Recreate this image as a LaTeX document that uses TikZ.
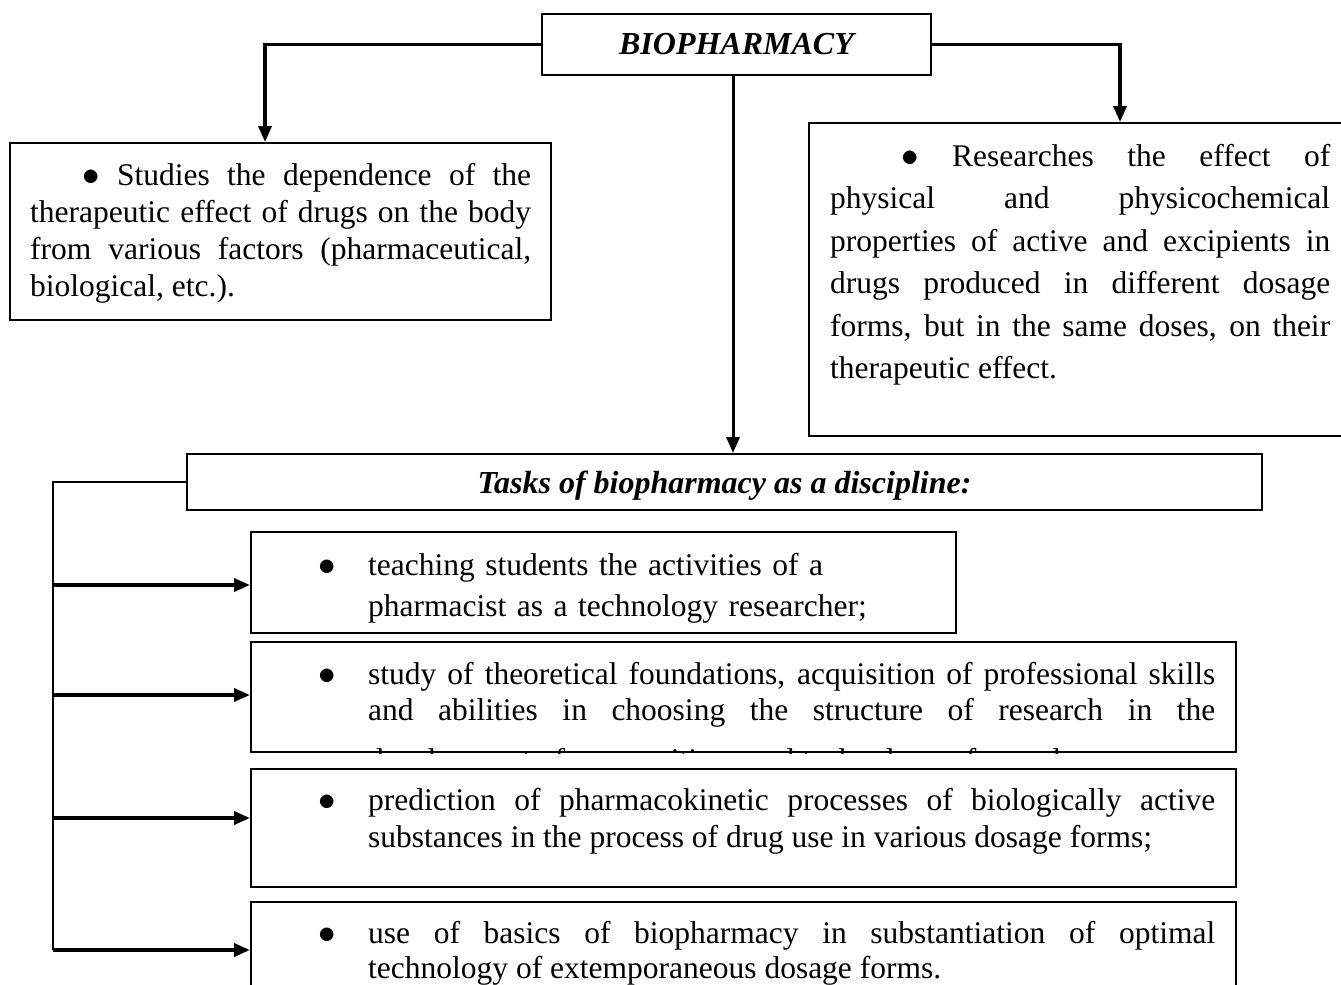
\documentclass[tikz,border=0pt]{standalone}
\usepackage{graphicx}
\usepackage{fontspec}
\setmainfont{Liberation Serif}
\usetikzlibrary{arrows.meta}

\tikzset{
  panel/.style={draw, line width=2pt, rectangle, inner sep=0pt},
  head/.style={font=\fontsize{32}{37}\selectfont\bfseries\itshape},
  body/.style={inner sep=0pt, anchor=base west, align=justify,
               font=\fontsize{31.5}{#1}\selectfont},
  feed/.style={line width=3.5pt, -{Triangle[length=16pt,width=13pt]}},
  rail/.style={line width=2pt},
  branch/.style={line width=3.5pt, -{Triangle[length=16pt,width=13pt]}}
}
\newcommand{\dotmark}{\scalebox{1.4}{$\bullet$}}
\newcommand{\bul}{\llap{\dotmark\hspace{32pt}}}

\begin{document}
\begin{tikzpicture}[x=1pt, y=-1pt]
  \useasboundingbox (0,0) rectangle (1341,985);
  \clip (0,0) rectangle (1341,985);

  % top
  \node[panel, head, minimum width=389, minimum height=61] (bio) at (736.5,44.5) {BIOPHARMACY};

  % left and right
  \node[panel, minimum width=541, minimum height=177] (studies) at (280.5,231.5) {};
  \node[body=37, text width=501] (studiestxt) at (30,185)
    {\hspace*{52pt}\dotmark\ Studies the dependence of the\linebreak
     therapeutic effect of drugs on the body\linebreak
     from various factors (pharmaceutical,\linebreak
     biological, etc.).};
  \node[panel, minimum width=541, minimum height=313] (researches) at (1079.5,279.5) {};
  \node[body=42.5, text width=500] (researchestxt) at (830,166)
    {\hspace*{71pt}\dotmark\ Researches the effect of\linebreak
     physical and physicochemical\linebreak
     properties of active and excipients in\linebreak
     drugs produced in different dosage\linebreak
     forms, but in the same doses, on their\linebreak
     therapeutic effect.};

  \draw[feed] (bio.west) -| ([xshift=-15.5pt]studies.north);
  \draw[feed] (bio.east) -| ([xshift=40.5pt]researches.north);

  % tasks
  \node[panel, head, minimum width=1075, minimum height=56, text height=22pt, text depth=0pt] (tasks) at (724.5,482) {Tasks of biopharmacy as a discipline:};
  \draw[feed, line width=3pt] ([xshift=-3.5pt]bio.south) -- ([xshift=-3.5pt]bio.south |- tasks.north);

  \node[panel, minimum width=705, minimum height=101] (t1) at (603.5,582.5) {};
  \node[body=41.5, text width=560, align=left] (t1txt) at (368,575)
    {\bul teaching students the activities of a\\
     pharmacist as a technology researcher;};

  \node[panel, minimum width=985, minimum height=110] (t2) at (743.5,697) {};
  \begin{scope}
    \clip (t2.north west) rectangle (t2.south east);
    \node[body=36.5, text width=847] (t2txt) at (368,684)
      {\bul study of theoretical foundations, acquisition of professional skills\linebreak
       and abilities in choosing the structure of research in the\linebreak\mbox{}};
    \node[body=36.5, text width=847] (t2more) at (368,770)
      {development of compositions and technology of new drugs;};
  \end{scope}

  \node[panel, minimum width=985, minimum height=118] (t3) at (743.5,828) {};
  \node[body=37.5, text width=847] (t3txt) at (368,810)
    {\bul prediction of pharmacokinetic processes of biologically active\linebreak
     substances in the process of drug use in various dosage forms;};

  \node[panel, minimum width=985, minimum height=110] (t4) at (743.5,957) {};
  \node[body=35.5, text width=847] (t4txt) at (368,943)
    {\bul use of basics of biopharmacy in substantiation of optimal\linebreak
     technology of extemporaneous dosage forms.};

  % rail on the left
  \coordinate (r1) at (53,585);
  \coordinate (r2) at (53,695);
  \coordinate (r3) at (53,818);
  \coordinate (r4) at (53,950);
  \draw[rail] (tasks.west) -| (r4);
  \foreach \i in {1,...,4}
    \draw[branch] (r\i) -- (r\i -| t\i.west);
\end{tikzpicture}
\end{document}
